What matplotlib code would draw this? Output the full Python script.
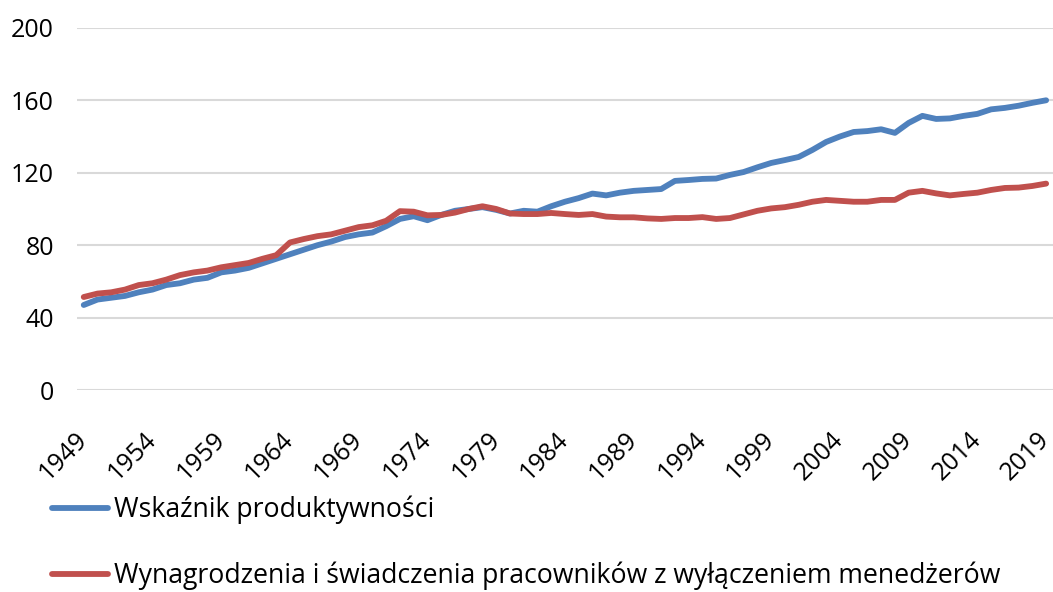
import numpy as np
import matplotlib
matplotlib.use('Agg')
import matplotlib.pyplot as plt
from matplotlib.transforms import ScaledTranslation

plt.rcParams['font.family'] = ['Open Sans', 'DejaVu Sans']

years = list(range(1949, 2020))

productivity = [47, 50, 51, 52, 54, 55.5, 58, 59, 61, 62, 65, 66, 67.5, 70, 72.5,
                75, 77.5, 80, 82, 84.5, 86, 87, 90.5, 94.5, 96, 93.8, 96.7, 99, 100, 101,
                99.5, 97.5, 99, 98.5, 101.5, 104, 106, 108.5, 107.5, 109, 110, 110.5, 111,
                115.5, 116, 116.6, 116.8, 118.8, 120.4, 123, 125.4, 127, 128.7, 132.6, 137,
                140, 142.5, 143, 144, 142, 147.5, 151.4, 149.7, 150, 151.4, 152.5, 155, 155.8,
                157, 158.6, 160]

compensation = [51.4, 53.3, 54, 55.5, 58, 59, 61, 63.5, 65, 66, 67.8, 69, 70.2, 72.5, 74.5,
                81.5, 83.4, 85, 86, 88, 90, 91, 93.5, 98.8, 98.5, 96.5, 96.7, 98, 100, 101.5,
                100, 97.5, 97.2, 97.2, 97.8, 97.2, 96.7, 97.2, 95.8, 95.4, 95.4, 94.8, 94.5,
                95, 95, 95.5, 94.5, 95, 97, 99, 100.3, 101, 102.3, 104, 105, 104.5, 104,
                104, 105, 105, 109, 110, 108.6, 107.5, 108.3, 109, 110.5, 111.6, 111.8,
                112.7, 114]

labels = ['Wskaźnik produktywności',
          'Wynagrodzenia i świadczenia pracowników z wyłączeniem menedżerów']
colors = ['#4F81BD', '#C0504D']
yticks = [0, 40, 80, 120, 160, 200]
xticks = years[::5]

fig = plt.figure(figsize=(10.53, 5.92), dpi=100)
ax = fig.add_axes([0.073, 0.341, 0.927, 0.612])

ax.plot(years, productivity, color=colors[0], linewidth=4.2, solid_capstyle='round', label=labels[0])
ax.plot(years, compensation, color=colors[1], linewidth=4.2, solid_capstyle='round', label=labels[1])

ax.set_xlim(years[0] - 0.5, years[-1] + 0.5)
ax.set_ylim(0, 200)
ax.set_yticks(yticks)
ax.set_xticks(xticks)
ax.set_xticklabels([str(y) for y in xticks], rotation=45, ha='right', va='center',
                   rotation_mode='anchor', fontsize=18)
shift = ScaledTranslation(9 / 72, 0, fig.dpi_scale_trans)
for lbl in ax.get_xticklabels():
    lbl.set_transform(lbl.get_transform() + shift)
ax.tick_params(axis='x', length=0, pad=33)
ax.tick_params(axis='y', length=0, pad=16.5, labelsize=18)
ax.grid(axis='y', color='#d9d9d9', linewidth=1.5)
ax.set_axisbelow(True)
for s in ax.spines.values():
    s.set_visible(False)

leg = fig.legend(loc='upper left', bbox_to_anchor=(0.0395, 0.181), frameon=False, fontsize=19.2,
                 handlelength=2.1, handletextpad=0.2, labelspacing=1.42, borderaxespad=0)

fig.savefig('out.png', dpi=100)
